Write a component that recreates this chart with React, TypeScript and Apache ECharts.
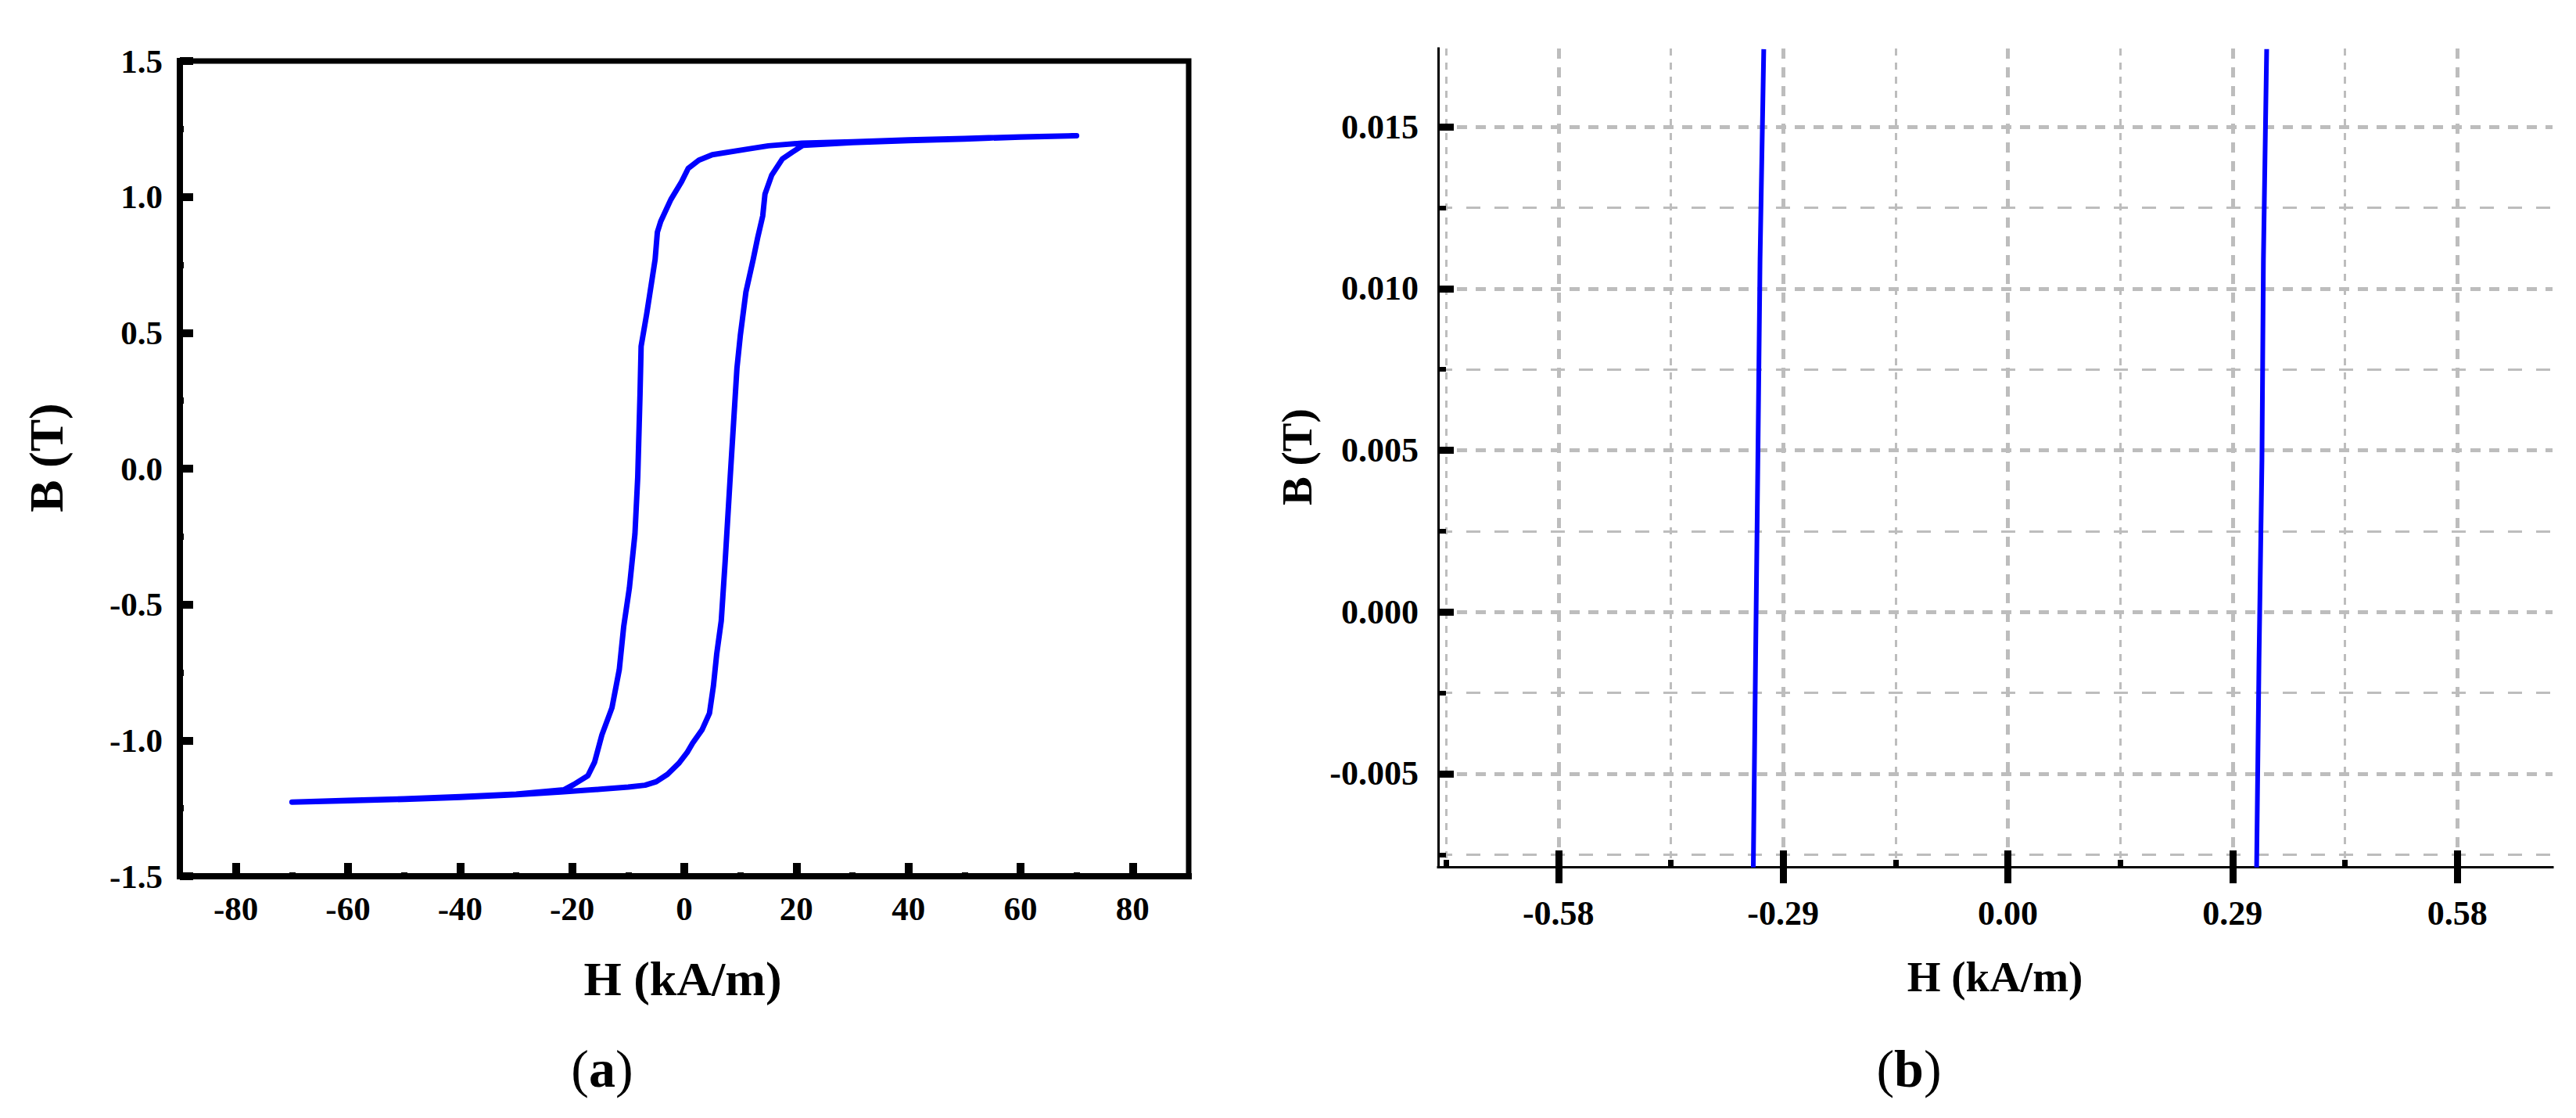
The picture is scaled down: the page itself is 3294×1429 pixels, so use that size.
import React, { useEffect, useRef } from 'react';
import * as echarts from 'echarts';

const FONT = '"Liberation Serif", "Times New Roman", serif';
const BLUE = '#0000FF';
const GRID_GRAY = '#BDBDBD';

// ---------- Panel (a): hysteresis loop ----------
const A_H_ASC = [-70, -60, -50, -40, -30, -22, -15, -10, -7, -5, -3, -1, 0.5, 1.5, 3.2, 4.5, 5.2, 5.8, 6.6, 7.3, 8.2, 8.8, 9.4, 10.0, 11.0, 12.3, 13.1, 14.0, 14.4, 15.6, 17.5, 19.3, 21.2, 30, 40, 50, 60, 70];
const A_B_ASC = [-1.227, -1.222, -1.217, -1.21, -1.2, -1.19, -1.18, -1.172, -1.165, -1.152, -1.125, -1.085, -1.045, -1.01, -0.96, -0.9, -0.8, -0.68, -0.56, -0.34, -0.03, 0.17, 0.37, 0.49, 0.65, 0.77, 0.85, 0.93, 1.01, 1.08, 1.14, 1.165, 1.19, 1.2, 1.207, 1.213, 1.22, 1.225];
const A_H_DESC = [70, 60, 50, 40, 30, 21, 15, 11, 5, 2.6, 0.7, -0.5, -2.4, -4.2, -4.8, -5.2, -6.1, -6.7, -7.7, -7.9, -8.3, -8.8, -9.8, -10.8, -11.6, -12.9, -14.7, -16.0, -17.2, -19.7, -21.5, -30, -40, -50, -60, -70];
const A_B_DESC = [1.225, 1.221, 1.215, 1.21, 1.203, 1.198, 1.188, 1.175, 1.155, 1.135, 1.105, 1.055, 0.99, 0.91, 0.87, 0.77, 0.65, 0.57, 0.45, 0.27, -0.03, -0.24, -0.44, -0.58, -0.74, -0.88, -0.98, -1.08, -1.13, -1.162, -1.182, -1.198, -1.207, -1.215, -1.221, -1.227];

const A_X_RANGE = [-90, 90];
const A_Y_RANGE = [-1.5, 1.5];
const A_X_MAJOR = [-80, -60, -40, -20, 0, 20, 40, 60, 80];
const A_X_MINOR = [-70, -50, -30, -10, 10, 30, 50, 70];
const A_Y_MAJOR = [-1.5, -1.0, -0.5, 0, 0.5, 1.0, 1.5];
const A_Y_MINOR = [-1.25, -0.75, -0.25, 0.25, 0.75, 1.25];

// ---------- Panel (b): zoom near B = 0 ----------
const B_H_LEFT = [-0.3285, -0.3256, -0.3226, -0.3198, -0.315];
const B_B_LEFT = [-0.0079, -0.0015, 0.0047, 0.0109, 0.0174];
const B_H_RIGHT = [0.321, 0.3241, 0.3279, 0.3298, 0.334];
const B_B_RIGHT = [-0.0079, -0.0015, 0.0047, 0.0109, 0.0174];

const B_X_RANGE = [-0.7352, 0.7029];
const B_Y_RANGE = [-0.00788, 0.01742];
const B_X_MAJOR = [-0.58, -0.29, 0, 0.29, 0.58];
const B_X_MINOR = [-0.725, -0.435, -0.145, 0.145, 0.435];
const B_Y_MAJOR = [-0.005, 0, 0.005, 0.01, 0.015];
const B_Y_MINOR = [-0.0075, -0.0025, 0.0025, 0.0075, 0.0125];

const zip = (xs: number[], ys: number[]) => xs.map((x, i) => [x, ys[i]]);

type AxisCfg = {
  grid: number;
  range: number[];
  position: string;
  z?: number;
  line?: number;
  ticks?: number[];
  tickShow?: boolean;
  inside?: boolean;
  tickLen?: number;
  tickW?: number;
  labels?: number[];
  fmt?: (v: number) => string;
  margin?: number;
  fontSize?: number;
  split?: { width: number; dash: number[] };
};

function makeAxis(c: AxisCfg) {
  return {
    type: 'value',
    gridIndex: c.grid,
    min: c.range[0],
    max: c.range[1],
    position: c.position,
    z: c.z ?? 1,
    scale: true,
    axisLine: {
      show: !!c.line,
      onZero: false,
      lineStyle: { color: '#000', width: c.line || 1, cap: 'square' },
    },
    axisTick: {
      show: c.tickShow !== false && !!c.ticks,
      customValues: c.ticks,
      inside: !!c.inside,
      length: c.tickLen || 5,
      lineStyle: { color: '#000', width: c.tickW || 1 },
    },
    axisLabel: c.labels
      ? {
          show: true,
          customValues: c.labels,
          formatter: c.fmt,
          margin: c.margin,
          fontSize: c.fontSize,
          fontWeight: 'bold',
          fontFamily: FONT,
          color: '#000',
        }
      : { show: false },
    splitLine: c.split
      ? { show: true, lineStyle: { color: GRID_GRAY, width: c.split.width, type: c.split.dash } }
      : { show: false },
    splitArea: { show: false },
    minorTick: { show: false },
    minorSplitLine: { show: false },
  };
}

const option = {
  animation: false,
  backgroundColor: '#fff',
  grid: [
    { left: 230, top: 78, width: 1290, height: 1042, show: true, borderColor: '#000', borderWidth: 7, backgroundColor: 'transparent', outerBoundsMode: 'none' },
    { left: 1839, top: 62, width: 1425, height: 1046, show: false, outerBoundsMode: 'none' },
  ],
  xAxis: [
    // (a)
    makeAxis({ grid: 0, range: A_X_RANGE, position: 'bottom', line: 8, ticks: A_X_MAJOR, inside: true, tickLen: 17, tickW: 10, labels: A_X_MAJOR, fmt: (v: number) => String(v), margin: 20, fontSize: 43 }),
    makeAxis({ grid: 0, range: A_X_RANGE, position: 'bottom', ticks: A_X_MINOR, inside: true, tickLen: 5, tickW: 8 }),
    // (b)
    makeAxis({ grid: 1, range: B_X_RANGE, position: 'bottom', line: 3, ticks: B_X_MAJOR, inside: false, tickLen: 21, tickW: 9, labels: B_X_MAJOR, fmt: (v: number) => v.toFixed(2), margin: 37, fontSize: 44 }),
    makeAxis({ grid: 1, range: B_X_RANGE, position: 'bottom', ticks: B_X_MAJOR, inside: true, tickLen: 21, tickW: 9 }),
    makeAxis({ grid: 1, range: B_X_RANGE, position: 'bottom', ticks: B_X_MINOR, inside: true, tickLen: 9, tickW: 7 }),
    makeAxis({ grid: 1, range: B_X_RANGE, position: 'bottom', z: 0, ticks: B_X_MAJOR, tickShow: false, split: { width: 5, dash: [13, 11] } }),
    makeAxis({ grid: 1, range: B_X_RANGE, position: 'bottom', z: 0, ticks: B_X_MINOR, tickShow: false, split: { width: 3, dash: [9, 9] } }),
  ],
  yAxis: [
    // (a)
    makeAxis({ grid: 0, range: A_Y_RANGE, position: 'left', line: 8, ticks: A_Y_MAJOR, inside: true, tickLen: 17, tickW: 10, labels: A_Y_MAJOR, fmt: (v: number) => v.toFixed(1), margin: 22, fontSize: 43 }),
    makeAxis({ grid: 0, range: A_Y_RANGE, position: 'left', ticks: A_Y_MINOR, inside: true, tickLen: 5, tickW: 8 }),
    // (b)
    makeAxis({ grid: 1, range: B_Y_RANGE, position: 'left', line: 3, ticks: B_Y_MAJOR, inside: true, tickLen: 20, tickW: 9, labels: B_Y_MAJOR, fmt: (v: number) => v.toFixed(3), margin: 25, fontSize: 44 }),
    makeAxis({ grid: 1, range: B_Y_RANGE, position: 'left', ticks: B_Y_MINOR, inside: true, tickLen: 10, tickW: 6 }),
    makeAxis({ grid: 1, range: B_Y_RANGE, position: 'left', z: 0, ticks: B_Y_MAJOR, tickShow: false, split: { width: 5, dash: [13, 11] } }),
    makeAxis({ grid: 1, range: B_Y_RANGE, position: 'left', z: 0, ticks: B_Y_MINOR, tickShow: false, split: { width: 3, dash: [18, 18] } }),
  ],
  series: [
    {
      type: 'line',
      name: 'B-H loop',
      xAxisIndex: 0,
      yAxisIndex: 0,
      data: [...zip(A_H_ASC, A_B_ASC), ...zip(A_H_DESC, A_B_DESC)],
      showSymbol: false,
      symbol: 'none',
      lineStyle: { color: BLUE, width: 7, join: 'round', cap: 'round' },
      z: 2,
    },
    {
      type: 'line',
      name: 'left branch',
      xAxisIndex: 2,
      yAxisIndex: 2,
      data: zip(B_H_LEFT, B_B_LEFT),
      showSymbol: false,
      symbol: 'none',
      lineStyle: { color: BLUE, width: 6 },
      z: 2,
    },
    {
      type: 'line',
      name: 'right branch',
      xAxisIndex: 2,
      yAxisIndex: 2,
      data: zip(B_H_RIGHT, B_B_RIGHT),
      showSymbol: false,
      symbol: 'none',
      lineStyle: { color: BLUE, width: 6 },
      z: 2,
    },
  ],
  graphic: [
    { type: 'text', x: 59, y: 585, rotation: Math.PI / 2, style: { text: 'B (T)', fontSize: 62, fontWeight: 'bold', fontFamily: FONT, fill: '#000', align: 'center', verticalAlign: 'middle' } },
    { type: 'text', x: 873, y: 1251, style: { text: 'H (kA/m)', fontSize: 62, fontWeight: 'bold', fontFamily: FONT, fill: '#000', align: 'center', verticalAlign: 'middle' } },
    { type: 'text', x: 1658, y: 584, rotation: Math.PI / 2, style: { text: 'B (T)', fontSize: 55, fontWeight: 'bold', fontFamily: FONT, fill: '#000', align: 'center', verticalAlign: 'middle' } },
    { type: 'text', x: 2551, y: 1248, style: { text: 'H (kA/m)', fontSize: 55, fontWeight: 'bold', fontFamily: FONT, fill: '#000', align: 'center', verticalAlign: 'middle' } },
    { type: 'text', x: 770, y: 1366, style: { text: '({b|a})', fontSize: 68, fontFamily: FONT, fill: '#000', align: 'center', verticalAlign: 'middle', rich: { b: { fontSize: 68, fontWeight: 'bold', fontFamily: FONT, fill: '#000' } } } },
    { type: 'text', x: 2441, y: 1366, style: { text: '({b|b})', fontSize: 68, fontFamily: FONT, fill: '#000', align: 'center', verticalAlign: 'middle', rich: { b: { fontSize: 68, fontWeight: 'bold', fontFamily: FONT, fill: '#000' } } } },
  ],
};

export default function App() {
  const ref = useRef<HTMLDivElement>(null);
  useEffect(() => {
    if (!ref.current) return;
    const chart = echarts.init(ref.current, null, { renderer: 'svg' });
    chart.setOption(option as any);
    return () => chart.dispose();
  }, []);
  return (
    <div
      ref={ref}
      style={{ position: 'absolute', left: 0, top: 0, width: 3294, height: 1429, background: '#fff' }}
    />
  );
}
